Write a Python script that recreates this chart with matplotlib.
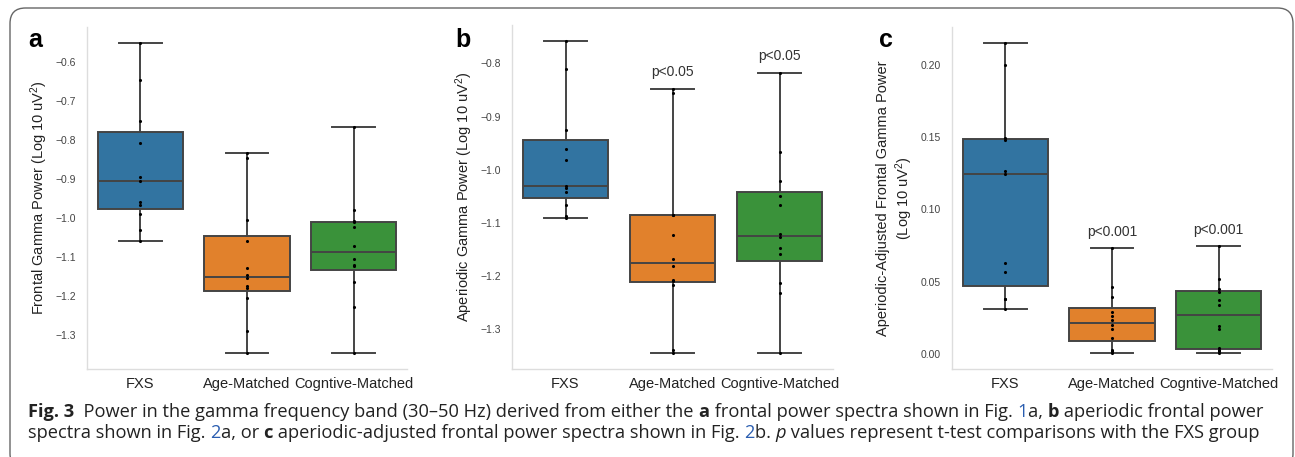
import numpy as np
import matplotlib
matplotlib.use("Agg")
import matplotlib.pyplot as plt
from matplotlib import font_manager
from matplotlib.patches import FancyBboxPatch

groups = ["FXS", "Age-Matched", "Cogntive-Matched"]
colors = ["#3274a1", "#e1812c", "#3a923a"]

# panel a - frontal gamma power
frontal_fxs = [-0.551, -0.648, -0.751, -0.807, -0.896, -0.905, -0.958, -0.966, -0.990, -1.032, -1.058]
frontal_age = [-0.833, -0.846, -1.006, -1.059, -1.127, -1.146, -1.155, -1.174, -1.180, -1.205, -1.289, -1.347]
frontal_cog = [-0.768, -0.980, -1.009, -1.011, -1.023, -1.071, -1.105, -1.120, -1.122, -1.164, -1.227, -1.347]

# panel b - aperiodic gamma power
aper_fxs = [-0.757, -0.810, -0.926, -0.962, -0.981, -1.031, -1.034, -1.042, -1.066, -1.087, -1.091]
aper_age = [-0.848, -0.855, -1.085, -1.085, -1.123, -1.168, -1.182, -1.208, -1.209, -1.217, -1.339, -1.346]
aper_cog = [-0.818, -0.967, -1.021, -1.050, -1.066, -1.122, -1.127, -1.147, -1.158, -1.214, -1.233, -1.346]

# panel c - aperiodic-adjusted gamma power
adj_fxs = [0.2152, 0.200, 0.1494, 0.1477, 0.1265, 0.1246, 0.0630, 0.0565, 0.0378, 0.0378, 0.0311]
adj_age = [0.0731, 0.0462, 0.0392, 0.0292, 0.0264, 0.0238, 0.0199, 0.0175, 0.0115, 0.0031, 0.0019, 0.0005]
adj_cog = [0.0745, 0.0521, 0.0451, 0.0432, 0.0374, 0.0343, 0.0194, 0.0171, 0.0040, 0.0028, 0.0019, 0.0005]

pvals_b = ["", "p<0.05", "p<0.05"]
pvals_c = ["", "p<0.001", "p<0.001"]

plt.rcParams["font.family"] = ["Liberation Sans", "DejaVu Sans"]
plt.rcParams["mathtext.default"] = "regular"
plt.rcParams["axes.unicode_minus"] = True

W, H = 1295, 457
fig = plt.figure(figsize=(W / 100, H / 100), dpi=100)


def px_axes(left, top, right, bottom):
    return fig.add_axes([left / W, 1 - bottom / H, (right - left) / W, (bottom - top) / H])


def draw_panel(ax, data, ylabel, yticks, fmt, pvals):
    line = dict(color="#444444", linewidth=1.4)
    bp = ax.boxplot(data, positions=range(3), widths=0.8, whis=(0, 100),
                    patch_artist=True, showfliers=False,
                    boxprops=dict(edgecolor="#444444", linewidth=1.4),
                    medianprops=line, whiskerprops=line, capprops=line)
    for patch, c in zip(bp["boxes"], colors):
        patch.set_facecolor(c)
    for i, vals in enumerate(data):
        ax.scatter(np.full(len(vals), i), vals, s=5, color="black", zorder=3, linewidths=0)
    for i, p in enumerate(pvals):
        if p:
            ax.annotate(p, (i, max(data[i])), xytext=(0, 7), textcoords="offset points",
                        ha="center", va="bottom", fontsize=10, color="#333333")
    ax.set_xlim(-0.5, 2.5)
    ax.margins(y=0.05)
    ax.set_xticks(range(3))
    ax.set_xticklabels(groups, fontsize=10.5, color="#222222")
    ax.set_yticks(yticks)
    ax.set_yticklabels([fmt.format(t).replace("-", "\u2212") for t in yticks],
                       fontsize=7.5, color="#444444")
    ax.tick_params(length=0, pad=8)
    ax.tick_params(axis="x", pad=6)
    ax.set_ylabel(ylabel, fontsize=10.5, color="#222222")
    for s in ["top", "right"]:
        ax.spines[s].set_visible(False)
    for s in ["left", "bottom"]:
        ax.spines[s].set_color("#dddddd")
        ax.spines[s].set_linewidth(1.0)


ax_a = px_axes(87, 27, 407, 369)
draw_panel(ax_a, [frontal_fxs, frontal_age, frontal_cog],
           "Frontal Gamma Power (Log 10 uV$^2$)",
           [-1.3, -1.2, -1.1, -1.0, -0.9, -0.8, -0.7, -0.6], "{:.1f}", ["", "", ""])

ax_b = px_axes(512, 25, 833, 369)
draw_panel(ax_b, [aper_fxs, aper_age, aper_cog],
           "Aperiodic Gamma Power (Log 10 uV$^2$)",
           [-1.3, -1.2, -1.1, -1.0, -0.9, -0.8], "{:.1f}", pvals_b)

ax_c = px_axes(952, 27, 1272, 369)
draw_panel(ax_c, [adj_fxs, adj_age, adj_cog],
           "Aperiodic-Adjusted Frontal Gamma Power\n(Log 10 uV$^2$)",
           [0.0, 0.05, 0.10, 0.15, 0.20], "{:.2f}", pvals_c)

for lab, x in [("a", 28), ("b", 455), ("c", 879)]:
    fig.text(x / W, 1 - 47 / H, lab, fontsize=18, fontweight="bold", va="baseline")

# frame round the figure
frame = FancyBboxPatch((10 / W, -12 / H), 1283 / W, (H - 8 + 12) / H,
                       boxstyle="round,pad=0,rounding_size=0.012",
                       transform=fig.transFigure, fill=False,
                       edgecolor="#666666", linewidth=1.0, mutation_aspect=W / H)
fig.patches.append(frame)

# caption, laid out run by run
try:
    font_manager.findfont("Liberation Sans Narrow", fallback_to_default=False)
    cap_family = ["Liberation Sans Narrow", "DejaVu Sans"]
except Exception:
    cap_family = ["Open Sans", "DejaVu Sans"]

line1 = [("Fig. 3", "bold"), ("  Power in the gamma frequency band (30\u201350 Hz) derived from either the ", ""),
         ("a", "bold"), (" frontal power spectra shown in Fig. ", ""), ("1", "link"), ("a, ", ""),
         ("b", "bold"), (" aperiodic frontal power", "")]
line2 = [("spectra shown in Fig. ", ""), ("2", "link"), ("a, or ", ""), ("c", "bold"),
         (" aperiodic-adjusted frontal power spectra shown in Fig. ", ""), ("2", "link"),
         ("b. ", ""), ("p", "italic"), (" values represent t-test comparisons with the FXS group", "")]

renderer = fig.canvas.get_renderer()


def run_width(txt, style, size):
    t = fig.text(0, 0, txt.replace(" ", "\u00a0") + "|", fontsize=size, family=cap_family,
                 fontweight="bold" if style == "bold" else "normal",
                 fontstyle="italic" if style == "italic" else "normal")
    w1 = t.get_window_extent(renderer).width
    t.set_text("|")
    w2 = t.get_window_extent(renderer).width
    t.remove()
    return w1 - w2


def line_width(runs, size):
    return sum(run_width(t, s, size) for t, s in runs)


size = 10.0 * (1239 / line_width(line1, 10.0))


def draw_line(runs, x, y):
    for txt, style in runs:
        fig.text(x / W, 1 - y / H, txt.replace(" ", "\u00a0"), fontsize=size, family=cap_family,
                 fontweight="bold" if style == "bold" else "normal",
                 fontstyle="italic" if style == "italic" else "normal",
                 color="#2a5db0" if style == "link" else "#222222", va="baseline")
        x += run_width(txt, style, size)


draw_line(line1, 28, 416.7)
draw_line(line2, 28, 437.7)

fig.savefig("out.png", dpi=100)
